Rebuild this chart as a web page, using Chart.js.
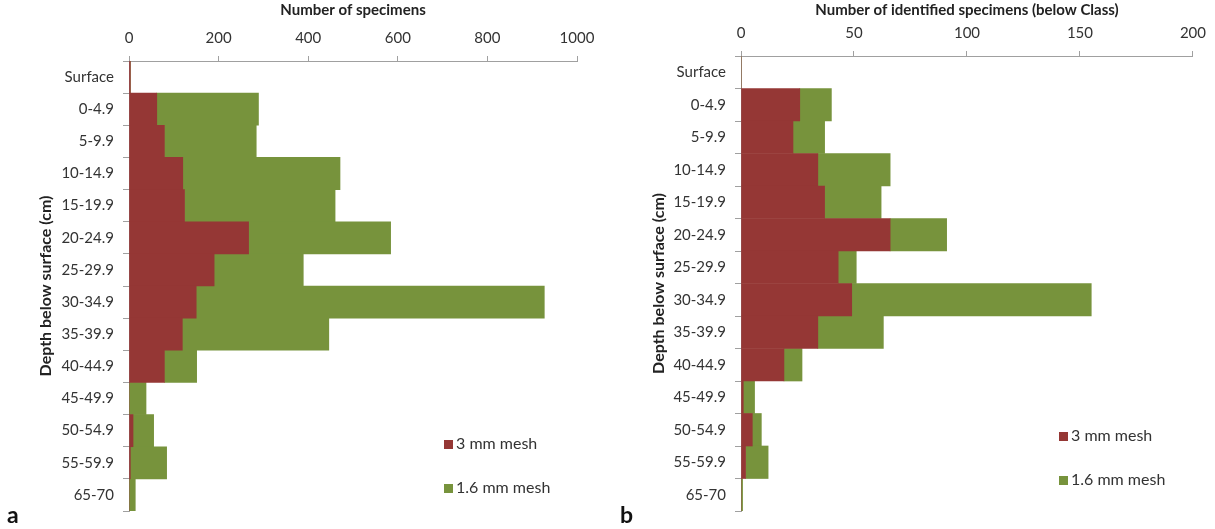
<!DOCTYPE html>
<html>
<head>
<meta charset="utf-8">
<script src="https://cdn.jsdelivr.net/npm/chart.js@4/dist/chart.umd.min.js"></script>
<style>
  html, body { margin: 0; padding: 0; background: #fff; }
  body { width: 1215px; height: 529px; position: relative; overflow: hidden; font-family: Lato, "Open Sans", sans-serif; }
  .panel { position: absolute; top: 0; width: 605px; height: 529px; }
  .panel canvas { position: absolute; left: 0; top: 0; }
  .legend { position: absolute; font-size: 16px; color: #333; }
  .legend div { position: absolute; white-space: nowrap; line-height: 16px; }
  .legend span { display: inline-block; width: 9px; height: 9px; margin-right: 3px; vertical-align: 0; }
  .tag { position: absolute; font-size: 23px; font-weight: bold; color: #111; }
</style>
</head>
<body>
<div class="panel" style="left:0"><canvas id="chartA" width="605" height="529"></canvas></div>
<div class="panel" style="left:610px"><canvas id="chartB" width="605" height="529"></canvas></div>
<div class="tag" style="left:7px; top:500px">a</div>
<div class="tag" style="left:620px; top:500px">b</div>
<div id="legendA" class="legend" style="left:444px; top:435px"></div>
<div id="legendB" class="legend" style="left:1059px; top:427px"></div>
<script>
// Depth classes (y categories)
const depthLabels = ['Surface', '0-4.9', '5-9.9', '10-14.9', '15-19.9', '20-24.9', '25-29.9',
  '30-34.9', '35-39.9', '40-44.9', '45-49.9', '50-54.9', '55-59.9', '65-70'];
const meshLabels = ['3 mm mesh', '1.6 mm mesh'];
const meshColors = ['#953735', '#77933c'];

// a: number of specimens (1.6 mm values are the part added on top of 3 mm)
const specimens3mm = [3, 62, 79, 120, 124, 267, 190, 150, 119, 79, 0, 9, 3, 0];
const specimens16mm = [0, 227, 205, 351, 336, 317, 199, 777, 327, 72, 38, 46, 81, 14];
const ticksA = { max: 1000, step: 200 };

// b: number of identified specimens (below Class)
const identified3mm = [0, 26, 23, 34, 37, 66, 43, 49, 34, 19, 1, 5, 2, 0];
const identified16mm = [0, 14, 14, 32, 25, 25, 8, 106, 29, 8, 5, 4, 10, 0.7];
const ticksB = { max: 200, step: 50 };

const axisColor = '#a0a0a0';
const fontFamily = 'Lato, "Open Sans", sans-serif';

function renderDepthChart(canvasId, xTitle, red, green, ticks, box) {
  const ctx = document.getElementById(canvasId).getContext('2d');
  return new Chart(ctx, {
    type: 'bar',
    data: {
      labels: depthLabels,
      datasets: [
        { label: meshLabels[0], data: red, backgroundColor: meshColors[0] },
        { label: meshLabels[1], data: green, backgroundColor: meshColors[1] }
      ]
    },
    options: {
      indexAxis: 'y',
      responsive: false,
      animation: false,
      layout: { padding: { left: box.left, right: box.right, top: 0, bottom: box.bottom } },
      datasets: { bar: { barPercentage: 1, categoryPercentage: 1, borderWidth: 0 } },
      plugins: { legend: { display: false }, tooltip: { enabled: false } },
      scales: {
        x: {
          position: 'top',
          stacked: true,
          min: 0,
          max: ticks.max,
          afterFit: function(scale) { scale.height = box.top; },
          ticks: {
            stepSize: ticks.step, color: '#333', padding: 9, font: { family: fontFamily, size: 15 },
            callback: function(value) { return String(value); }
          },
          grid: { drawOnChartArea: false, drawTicks: true, tickLength: 5, color: axisColor },
          border: { display: true, color: axisColor },
          title: {
            display: true, text: xTitle, color: '#222', padding: { top: 1, bottom: 0 },
            font: { family: fontFamily, size: 15, weight: 'bold' }
          }
        },
        y: {
          stacked: true,
          afterFit: function(scale) { scale.width = box.yWidth; },
          ticks: { color: '#333', padding: 9, font: { family: fontFamily, size: 15 } },
          grid: { drawOnChartArea: false, drawTicks: true, tickLength: 6, color: axisColor },
          border: { display: true, color: axisColor },
          title: {
            display: true, text: 'Depth below surface (cm)', color: '#222', padding: 2,
            font: { family: fontFamily, size: 16, weight: 'bold' }
          }
        }
      }
    }
  });
}

function renderLegend(elId) {
  const el = document.getElementById(elId);
  meshLabels.forEach(function(label, i) {
    const row = document.createElement('div');
    row.style.top = (i * 44) + 'px';
    row.innerHTML = '<span style="background:' + meshColors[i] + '"></span>' + label;
    el.appendChild(row);
  });
}

renderDepthChart('chartA', 'Number of specimens', specimens3mm, specimens16mm, ticksA,
  { left: 34, yWidth: 95, right: 28, top: 61, bottom: 15 });
renderDepthChart('chartB', 'Number of identified specimens (below Class)', identified3mm, identified16mm, ticksB,
  { left: 37, yWidth: 94, right: 18, top: 56, bottom: 18 });
renderLegend('legendA');
renderLegend('legendB');
</script>
</body>
</html>
